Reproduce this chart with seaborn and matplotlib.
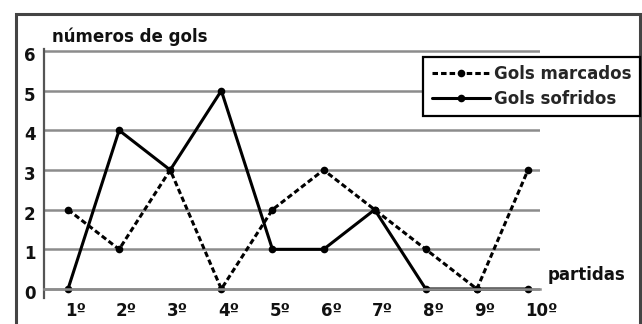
import matplotlib
matplotlib.use("Agg")
import matplotlib.pyplot as plt
import matplotlib.transforms as mtransforms
from matplotlib.patches import Rectangle
import seaborn as sns
import pandas as pd

# ---- data ----
partidas = [1, 2, 3, 4, 5, 6, 7, 8, 9, 10]
rotulos_partidas = ["1º", "2º", "3º", "4º", "5º", "6º", "7º", "8º", "9º", "10º"]
gols_marcados = [2, 1, 3, 0, 2, 3, 2, 1, 0, 3]
gols_sofridos = [0, 4, 3, 5, 1, 1, 2, 0, 0, 0]
y_ticks = [0, 1, 2, 3, 4, 5, 6]
serie_nomes = ["Gols marcados", "Gols sofridos"]

sns.set_style("white")
plt.rcParams["font.family"] = ["DejaVu Sans"]
plt.rcParams["font.weight"] = "bold"

W, H = 642, 324
fig = plt.figure(figsize=(W / 100, H / 100), dpi=100)
fig.patch.set_facecolor("white")

# axes placement (pixel based)
px_per_unit_y = (289 - 51) / 6.0
y_lo, y_hi = -0.23, 6.05
bottom_px = 289 + (0 - y_lo) * px_per_unit_y
top_px = 51 - (y_hi - 6) * px_per_unit_y
ax = fig.add_axes([44 / W, (H - bottom_px) / H, (540 - 44) / W, (bottom_px - top_px) / H])

px_per_unit_x = (528 - 68) / 9.0
ax.set_xlim(1 - (68 - 44) / px_per_unit_x, 10 + (540 - 528) / px_per_unit_x)
ax.set_ylim(y_lo, y_hi)

grid_color = "#8c8c8c"
ax.set_yticks(y_ticks)
ax.yaxis.grid(True, color=grid_color, linewidth=1.8)
ax.xaxis.grid(False)
ax.set_axisbelow(True)

df = pd.DataFrame({
    "partida": partidas * 2,
    "gols": gols_marcados + gols_sofridos,
    "serie": [serie_nomes[0]] * len(partidas) + [serie_nomes[1]] * len(partidas),
})

sns.lineplot(data=df[df.serie == serie_nomes[0]], x="partida", y="gols", ax=ax,
             color="black", linewidth=2.2, linestyle=(0, (1.8, 1.0)),
             marker="o", markersize=5.5, markeredgewidth=0, label=serie_nomes[0],
             legend=False)
sns.lineplot(data=df[df.serie == serie_nomes[1]], x="partida", y="gols", ax=ax,
             color="black", linewidth=2.2, linestyle="-",
             marker="o", markersize=5.5, markeredgewidth=0, label=serie_nomes[1],
             legend=False)

# spines
for s in ["top", "right"]:
    ax.spines[s].set_visible(False)
ax.spines["left"].set_color("#555555")
ax.spines["left"].set_linewidth(1.6)
ax.spines["bottom"].set_position(("data", 0))
ax.spines["bottom"].set_color(grid_color)
ax.spines["bottom"].set_linewidth(1.8)

ax.set_xticks(partidas)
ax.set_xticklabels(rotulos_partidas, fontsize=12, fontweight="bold", ha="left")
ax.tick_params(axis="x", direction="inout", length=7, width=1, color=grid_color,
               pad=6, labelcolor="#111111")
ax.tick_params(axis="y", direction="out", length=5, width=1.2, color="#555555",
               pad=1, labelsize=12, labelcolor="#111111")
for lab in ax.get_yticklabels():
    lab.set_fontweight("bold")

offx = mtransforms.ScaledTranslation(-3 / 100, 0, fig.dpi_scale_trans)
for lab in ax.get_xticklabels():
    lab.set_transform(lab.get_transform() + offx)
offy = mtransforms.ScaledTranslation(0, -3 / 100, fig.dpi_scale_trans)
for lab in ax.get_yticklabels():
    lab.set_transform(lab.get_transform() + offy)

ax.set_xlabel("")
ax.set_ylabel("")

fig.text(52 / W, 1 - 42 / H, "números de gols", fontsize=12, fontweight="bold",
         color="#111111", va="baseline", ha="left")
fig.text(548 / W, 1 - 280 / H, "partidas", fontsize=12, fontweight="bold",
         color="#111111", va="baseline", ha="left")

handles, labels = ax.get_legend_handles_labels()
leg = fig.legend(handles, labels, loc="upper right",
                 bbox_to_anchor=(640 / W, 1 - 57 / H),
                 frameon=True, fancybox=False, framealpha=1, edgecolor="black",
                 prop={"weight": "bold", "size": 12}, handlelength=3.5,
                 handletextpad=0.25, borderpad=0.5, labelspacing=0.4,
                 borderaxespad=0)
leg.get_frame().set_linewidth(1.6)

# outer frame
frame = Rectangle((15.5 / W, -0.2), (639.5 - 15.5) / W, 1.2 - 13.5 / H,
                  transform=fig.transFigure, fill=False, edgecolor="#444444",
                  linewidth=2.2, zorder=0)
fig.patches.append(frame)

fig.savefig("out.png", dpi=100)
